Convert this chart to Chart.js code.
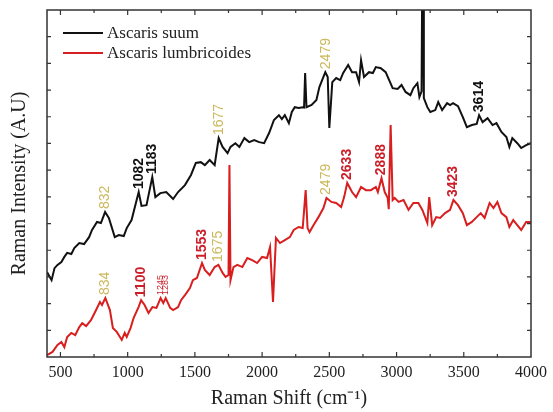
<!DOCTYPE html>
<html>
<head>
<meta charset="utf-8">
<script src="https://cdn.jsdelivr.net/npm/chart.js@4.4.1/dist/chart.umd.min.js"></script>
<style>
    html, body { margin: 0; padding: 0; background: #fff; }
    #wrap { width: 553px; height: 412px; }
</style>
</head>
<body>
<div id="wrap"><canvas id="raman"></canvas></div>
<script>
// Ascaris suum spectrum (black)
const suumShift = [400, 434, 456, 478, 507, 529, 550, 581, 603, 640, 676, 713, 735, 772, 801, 832, 860, 904, 934, 971,
    993, 1029, 1082, 1103, 1140, 1183, 1206, 1243, 1287, 1338, 1375, 1426, 1471, 1507, 1544, 1574, 1610, 1647, 1677, 1706,
    1743, 1765, 1801, 1831, 1868, 1904, 1941, 1978, 2015, 2052, 2088, 2125, 2147, 2169, 2199, 2221, 2243, 2272, 2302, 2312,
    2320, 2330, 2368, 2404, 2426, 2470, 2488, 2500, 2522, 2551, 2581, 2603, 2640, 2669, 2699, 2721, 2736, 2758, 2795, 2824,
    2846, 2883, 2919, 2971, 3008, 3037, 3067, 3103, 3125, 3155, 3170, 3186, 3190, 3197, 3203, 3229, 3251, 3288, 3310, 3339,
    3376, 3398, 3420, 3457, 3493, 3523, 3560, 3596, 3614, 3640, 3677, 3714, 3743, 3780, 3817, 3839, 3861, 3898, 3927, 3964, 4000];
const suumIntensity = [3.18, 2.88, 3.33, 3.45, 3.56, 3.75, 3.90, 3.86, 4.08, 4.27, 4.23, 4.49, 4.76, 5.06, 5.02, 5.43, 5.21, 4.49, 4.57, 4.53,
    4.83, 5.13, 6.18, 5.66, 5.69, 6.74, 5.99, 6.14, 6.18, 5.92, 6.18, 6.44, 6.82, 7.27, 7.30, 7.19, 7.38, 7.19, 8.20, 7.87,
    7.64, 7.87, 8.01, 7.87, 8.20, 8.05, 8.13, 8.05, 8.01, 8.39, 8.88, 9.06, 8.91, 9.06, 8.76, 9.18, 9.36, 9.33, 9.36, 9.35,
    10.64, 9.36, 9.44, 9.63, 10.11, 10.67, 10.49, 8.58, 10.30, 10.45, 10.37, 10.64, 10.94, 10.67, 10.67, 10.30, 11.12, 10.49, 10.67, 10.64,
    10.86, 10.82, 10.67, 10.07, 10.04, 10.19, 9.93, 9.81, 10.07, 10.26, 9.74, 9.95, 13.4, 13.4, 9.70, 9.36, 9.18, 9.25, 9.55, 9.25,
    9.51, 9.44, 9.51, 9.40, 8.99, 8.61, 8.69, 8.73, 9.06, 8.80, 8.95, 8.69, 8.76, 8.43, 8.24, 7.87, 8.20, 8.01, 7.83, 7.94, 8.01];

// Ascaris lumbricoides spectrum (red)
const lumbShift = [400, 441, 478, 507, 529, 550, 581, 610, 640, 662, 691, 728, 765, 794, 809, 834, 868, 890, 919, 956,
    978, 993, 1022, 1044, 1081, 1100, 1126, 1155, 1184, 1214, 1245, 1265, 1283, 1316, 1338, 1375, 1397, 1426, 1463, 1485,
    1515, 1553, 1574, 1610, 1647, 1675, 1706, 1728, 1750, 1757, 1765, 1787, 1816, 1853, 1890, 1926, 1963, 2000, 2037, 2059,
    2081, 2103, 2133, 2169, 2206, 2235, 2272, 2302, 2324, 2338, 2353, 2382, 2419, 2456, 2479, 2515, 2551, 2588, 2610, 2633,
    2669, 2699, 2736, 2772, 2809, 2846, 2861, 2888, 2912, 2934, 2942, 2956, 2971, 2986, 3015, 3052, 3089, 3125, 3162, 3192,
    3229, 3243, 3265, 3295, 3324, 3361, 3398, 3423, 3457, 3493, 3523, 3560, 3596, 3626, 3655, 3692, 3721, 3750, 3780, 3817,
    3839, 3868, 3898, 3927, 3964, 4000];
const lumbIntensity = [0.07, 0.19, 0.45, 0.56, 0.37, 0.75, 0.90, 0.82, 1.12, 1.27, 1.16, 1.39, 1.76, 2.06, 1.95, 2.21, 1.76, 1.09, 0.94, 0.64,
    0.90, 0.75, 1.09, 1.46, 1.87, 2.13, 1.95, 1.65, 1.87, 1.84, 2.21, 2.02, 2.21, 1.84, 1.76, 1.87, 2.13, 2.32, 2.58, 2.88,
    2.96, 3.52, 3.26, 3.07, 3.37, 3.45, 3.15, 3.00, 3.07, 7.19, 2.88, 3.37, 3.45, 3.37, 3.71, 3.63, 3.52, 3.75, 3.71, 4.12,
    2.06, 4.46, 4.27, 4.38, 4.49, 4.76, 4.87, 4.83, 6.25, 4.83, 4.68, 4.94, 5.24, 5.58, 5.96, 5.81, 5.77, 5.62, 5.99, 6.52,
    6.18, 5.99, 6.37, 6.25, 6.25, 6.37, 6.18, 6.70, 6.18, 5.96, 5.54, 8.69, 5.88, 5.96, 5.81, 5.88, 5.51, 5.77, 5.77, 5.51,
    5.02, 5.99, 4.94, 5.24, 5.21, 5.39, 5.51, 5.88, 5.69, 5.39, 4.94, 5.06, 5.24, 5.39, 5.21, 5.77, 5.58, 5.81, 5.39, 5.24,
    4.87, 5.13, 4.94, 4.76, 5.06, 5.06];

// marked bands; "shared" ones are printed in the pale yellow
const suumPeaks = [832, 1082, 1183, 1677, 2479, 3614];
const suumShared = [832, 1677, 2479];
const lumbPeaks = [834, 1100, 1245, 1283, 1553, 1675, 2479, 2633, 2888, 3423];
const lumbShared = [834, 1675, 2479];

const shiftTicks = [500, 1000, 1500, 2000, 2500, 3000, 3500, 4000];

const SERIF = '"Liberation Serif", "Times New Roman", serif';
const SANS = '"Liberation Sans", Arial, sans-serif';
const SHARED_COLOR = '#cbb85c';

function toPoints(xs, ys) {
    return xs.map((v, i) => ({x: v, y: ys[i]}));
}

function drawPeaks(ctx, chart, dsIndex, shifts, peaks, shared, ownColor) {
    const xScale = chart.scales.x;
    const meta = chart.getDatasetMeta(dsIndex);
    peaks.forEach(p => {
        let best = 0;
        shifts.forEach((s, i) => {
            if (Math.abs(s - p) < Math.abs(shifts[best] - p)) best = i;
        });
        // close neighbours get a smaller label so they don't collide
        const crowded = peaks.some(q => q !== p && Math.abs(q - p) < 60);
        const isShared = shared.includes(p);
        ctx.save();
        ctx.translate(xScale.getPixelForValue(p), meta.data[best].y - 3);
        ctx.rotate(-Math.PI / 2);
        if (crowded) {
            ctx.font = '9px ' + SANS;
        } else {
            ctx.font = (isShared ? '' : 'bold ') + '14px ' + SANS;
        }
        ctx.fillStyle = isShared ? SHARED_COLOR : ownColor;
        ctx.textAlign = 'left';
        ctx.textBaseline = 'middle';
        ctx.fillText(String(p), 0, 0);
        ctx.restore();
    });
}

const frameAndNotes = {
    id: 'frameAndNotes',
    afterDatasetsDraw(chart) {
        const {ctx, chartArea: a, scales: {x, y}} = chart;
        ctx.save();
        ctx.strokeStyle = '#333';
        ctx.lineWidth = 1.5;
        ctx.strokeRect(a.left, a.top, a.right - a.left, a.bottom - a.top);

        ctx.lineWidth = 1.2;
        ctx.beginPath();
        for (let v = 500; v < 4000; v += 250) {
            const px = x.getPixelForValue(v);
            const len = v % 500 === 0 ? 5 : 3;
            ctx.moveTo(px, a.bottom);
            ctx.lineTo(px, a.bottom - len);
            ctx.moveTo(px, a.top);
            ctx.lineTo(px, a.top + len);
        }
        for (let v = 1; v < 13; v++) {
            const py = y.getPixelForValue(v);
            ctx.moveTo(a.left, py);
            ctx.lineTo(a.left + 4, py);
            ctx.moveTo(a.right, py);
            ctx.lineTo(a.right - 4, py);
        }
        ctx.stroke();

        drawPeaks(ctx, chart, 0, suumShift, suumPeaks, suumShared, '#111');
        drawPeaks(ctx, chart, 1, lumbShift, lumbPeaks, lumbShared, '#cc1f2a');

        // legend inside the plot, top left
        chart.data.datasets.forEach((ds, i) => {
            const ly = a.top + 23 + i * 20;
            const lx = a.left + 16;
            ctx.strokeStyle = ds.borderColor;
            ctx.lineWidth = 2;
            ctx.beginPath();
            ctx.moveTo(lx, ly);
            ctx.lineTo(lx + 40, ly);
            ctx.stroke();
            ctx.fillStyle = '#222';
            ctx.font = '17px ' + SERIF;
            ctx.textAlign = 'left';
            ctx.textBaseline = 'middle';
            ctx.fillText(ds.label, lx + 44, ly + 1);
        });
        ctx.restore();
    }
};

new Chart(document.getElementById('raman'), {
    type: 'line',
    data: {
        datasets: [
            {
                label: 'Ascaris suum',
                data: toPoints(suumShift, suumIntensity),
                borderColor: '#111111',
                borderWidth: 2
            },
            {
                label: 'Ascaris lumbricoides',
                data: toPoints(lumbShift, lumbIntensity),
                borderColor: '#d81e1e',
                borderWidth: 2
            }
        ]
    },
    options: {
        responsive: true,
        maintainAspectRatio: false,
        animation: false,
        layout: {padding: {top: 10, right: 16, left: 0, bottom: 0}},
        elements: {point: {radius: 0}, line: {tension: 0}},
        plugins: {legend: {display: false}, tooltip: {enabled: false}},
        scales: {
            x: {
                type: 'linear',
                min: 400,
                max: 4000,
                afterBuildTicks: s => { s.ticks = shiftTicks.map(v => ({value: v})); },
                afterFit: s => { s.height = 55; },
                grid: {display: false, drawTicks: false},
                border: {display: false},
                ticks: {
                    color: '#222',
                    font: {family: SERIF, size: 16},
                    padding: 6,
                    maxRotation: 0,
                    callback: v => String(v)
                },
                title: {
                    display: true,
                    text: 'Raman Shift (cm\u207B\u00B9)',
                    color: '#222',
                    font: {family: SERIF, size: 20},
                    padding: {top: 0, bottom: 1}
                }
            },
            y: {
                min: 0,
                max: 13,
                afterFit: s => { s.width = 47; },
                grid: {display: false, drawTicks: false},
                border: {display: false},
                ticks: {display: false},
                title: {
                    display: true,
                    text: 'Raman Intensity (A.U)',
                    color: '#222',
                    font: {family: SERIF, size: 20},
                    padding: {top: 8, bottom: 0}
                }
            }
        }
    },
    plugins: [frameAndNotes]
});
</script>
</body>
</html>
